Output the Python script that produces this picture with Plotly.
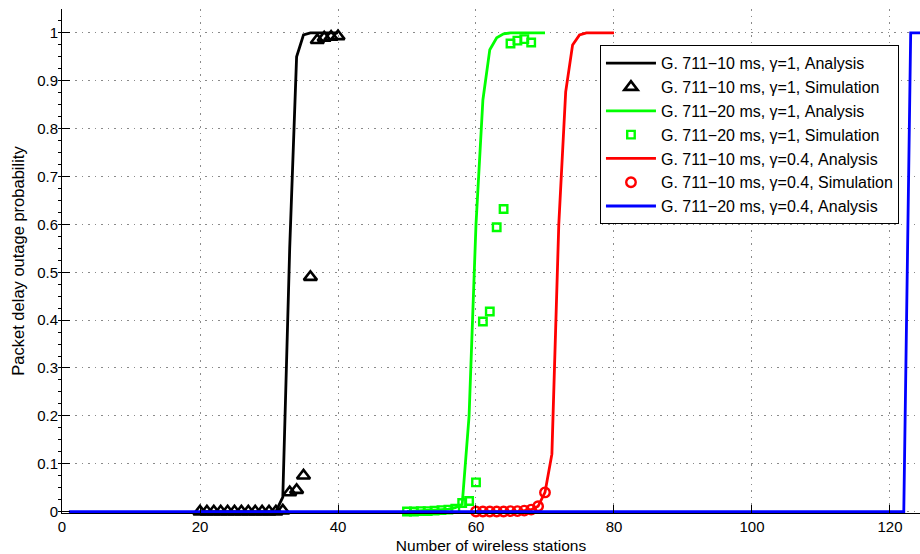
import plotly.graph_objects as go

# ---- data -------------------------------------------------------------
# G.711-10 ms, gamma=1
g10_g1_ana_x = list(range(20, 41))
g10_g1_ana_y = [0, 0, 0, 0, 0, 0, 0, 0, 0, 0, 0, 0, 0.03, 0.55, 0.95, 0.996,
                1, 1, 1, 1, 1]
g10_g1_sim_x = list(range(20, 41))
g10_g1_sim_y = [0, 0, 0, 0, 0, 0, 0, 0, 0, 0, 0, 0, 0.002, 0.04, 0.045, 0.075,
                0.49, 0.985, 0.99, 0.992, 0.993]

# G.711-20 ms, gamma=1
g20_g1_ana_x = list(range(50, 71))
g20_g1_ana_y = [0.0005, 0.001, 0.0015, 0.002, 0.003, 0.004, 0.005, 0.008, 0.015,
                0.2, 0.6, 0.86, 0.965, 0.99, 0.998, 1, 1, 1, 1, 1, 1]
g20_g1_sim_x = list(range(50, 69))
g20_g1_sim_y = [0, 0, 0.001, 0.001, 0.002, 0.003, 0.004, 0.006, 0.018, 0.022,
                0.061, 0.397, 0.418, 0.594, 0.632, 0.978, 0.984, 0.987, 0.98]

# G.711-10 ms, gamma=0.4
g10_g04_ana_x = list(range(60, 81))
g10_g04_ana_y = [0, 0, 0, 0, 0, 0, 0, 0.002, 0.004, 0.011, 0.04, 0.12, 0.6, 0.877,
                 0.975, 0.996, 1, 1, 1, 1, 1]
g10_g04_sim_x = list(range(60, 71))
g10_g04_sim_y = [0, 0, 0, 0, 0, 0.001, 0.001, 0.002, 0.004, 0.011, 0.04]

# G.711-20 ms, gamma=0.4
g20_g04_ana_x = list(range(1, 126))
g20_g04_ana_y = [0] * 122 + [1, 1, 1]

x_ticks = [0, 20, 40, 60, 80, 100, 120]
y_ticks = [0, 0.1, 0.2, 0.3, 0.4, 0.5, 0.6, 0.7, 0.8, 0.9, 1]
y_tick_text = ["0", "0.1", "0.2", "0.3", "0.4", "0.5", "0.6", "0.7", "0.8", "0.9", "1"]

# ---- styling ----------------------------------------------------------
FONT = "Liberation Sans, Arial, Helvetica, sans-serif"
LW = 2.8

fig = go.Figure()

fig.add_trace(go.Scatter(
    x=g10_g1_ana_x, y=g10_g1_ana_y, mode="lines",
    line=dict(color="#000000", width=LW),
    name="G. 711\u221210 ms, \u03b3=1, Analysis"))
fig.add_trace(go.Scatter(
    x=g10_g1_sim_x, y=g10_g1_sim_y, mode="markers",
    marker=dict(symbol="triangle-up-open", size=11.5, color="#000000",
                line=dict(width=2.6, color="#000000")),
    cliponaxis=False,
    name="G. 711\u221210 ms, \u03b3=1, Simulation"))
fig.add_trace(go.Scatter(
    x=g20_g1_ana_x, y=g20_g1_ana_y, mode="lines",
    line=dict(color="#00ff00", width=LW),
    name="G. 711\u221220 ms, \u03b3=1, Analysis"))
fig.add_trace(go.Scatter(
    x=g20_g1_sim_x, y=g20_g1_sim_y, mode="markers",
    marker=dict(symbol="square-open", size=7.5, color="#00ff00",
                line=dict(width=2.4, color="#00ff00")),
    cliponaxis=False,
    name="G. 711\u221220 ms, \u03b3=1, Simulation"))
fig.add_trace(go.Scatter(
    x=g10_g04_ana_x, y=g10_g04_ana_y, mode="lines",
    line=dict(color="#ff0000", width=LW),
    name="G. 711\u221210 ms, \u03b3=0.4, Analysis"))
fig.add_trace(go.Scatter(
    x=g10_g04_sim_x, y=g10_g04_sim_y, mode="markers",
    marker=dict(symbol="circle-open", size=9.5, color="#ff0000",
                line=dict(width=2.4, color="#ff0000")),
    cliponaxis=False,
    name="G. 711\u221210 ms, \u03b3=0.4, Simulation"))
fig.add_trace(go.Scatter(
    x=g20_g04_ana_x, y=g20_g04_ana_y, mode="lines",
    line=dict(color="#0000ff", width=LW),
    name="G. 711\u221220 ms, \u03b3=0.4, Analysis"))

grid_style = dict(showgrid=True, gridcolor="#8a8a8a", gridwidth=1,
                  griddash="1.5px,5px")

fig.update_layout(
    width=920, height=554,
    margin=dict(l=62, r=0, t=9, b=41),
    paper_bgcolor="white", plot_bgcolor="white",
    font=dict(family=FONT, size=15, color="#000000"),
    showlegend=True,
    legend=dict(
        x=0.627, y=0.928, xanchor="left", yanchor="top",
        bgcolor="white", bordercolor="#000000", borderwidth=1,
        font=dict(family=FONT, size=16, color="#000000"),
        itemwidth=50, tracegroupgap=0),
    xaxis=dict(
        range=[0, 124.35], tickvals=x_ticks,
        ticks="inside", ticklen=8, tickcolor="#000000", tickwidth=1,
        showline=True, linecolor="#000000", linewidth=1, mirror=False,
        zeroline=False, tickfont=dict(family=FONT, size=15),
        title=dict(text="Number of wireless stations",
                   font=dict(family=FONT, size=15.5), standoff=6),
        **grid_style),
    yaxis=dict(
        range=[-0.003, 1.05], tickvals=y_ticks, ticktext=y_tick_text,
        ticks="inside", ticklen=8, tickcolor="#000000", tickwidth=1,
        showline=True, linecolor="#000000", linewidth=1, mirror=False,
        zeroline=False, tickfont=dict(family=FONT, size=15),
        minor=dict(dtick=0.025, ticks="outside", ticklen=3,
                   tickcolor="#000000", showgrid=False),
        title=dict(text="Packet delay outage probability",
                   font=dict(family=FONT, size=16.5), standoff=8),
        **grid_style),
)

fig.write_html("out.html")
